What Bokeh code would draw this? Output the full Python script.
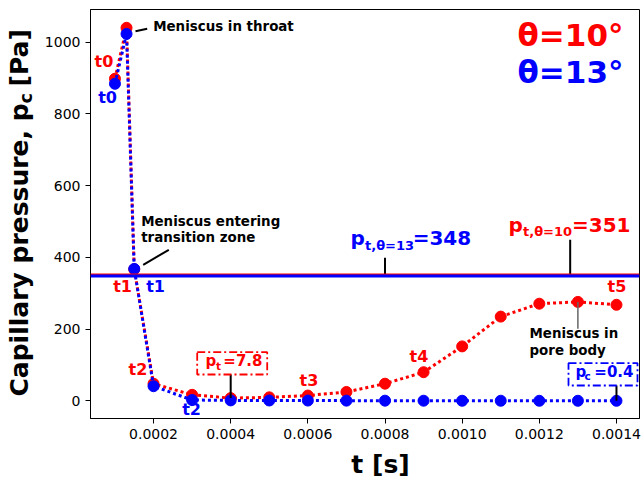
from bokeh.plotting import figure
from bokeh.models import Label, Span, Range1d, FixedTicker, PrintfTickFormatter
from bokeh.layouts import row
from bokeh.embed import file_html
from bokeh.resources import INLINE
import math

# ---------------- data ----------------
t = [0.0001, 0.00013, 0.00015, 0.0002, 0.0003, 0.0004, 0.0005, 0.0006,
     0.0007, 0.0008, 0.0009, 0.0010, 0.0011, 0.0012, 0.0013, 0.0014]
pc_10 = [898, 1040, 367, 48, 17, 7.8, 10, 15, 25, 48, 80, 152, 235, 271, 276, 268]
pc_13 = [884, 1023, 368, 41, 2.5, 1.5, 1.2, 1.0, 0.8, 0.7, 0.6, 0.5, 0.5, 0.4, 0.4, 0.4]
pt_10 = 351
pt_13 = 348
x_ticks = [0.0002, 0.0004, 0.0006, 0.0008, 0.0010, 0.0012, 0.0014]
y_ticks = [0, 200, 400, 600, 800, 1000]

FONT = "DejaVu Sans"
RED = "#ff0000"
BLUE = "#0000ff"

# ---------------- geometry ----------------
X0, X1 = 0.0000366, 0.0014597
Y0, Y1 = -49.0, 1091.0
W, H = 641, 483
LW = 40                      # width of the strip holding the y-axis title
FL, FR, FT, FB = 90, 639, 9, 418   # frame edges in page pixels


def X(px):
    return X0 + (px - FL) * (X1 - X0) / (FR - FL)


def Y(py):
    return Y1 - (py - FT) * (Y1 - Y0) / (FB - FT)


p = figure(width=W - LW, height=H, x_range=Range1d(X0, X1), y_range=Range1d(Y0, Y1),
           output_backend="svg", toolbar_location=None,
           min_border_left=FL - LW, min_border_right=W - FR,
           min_border_top=FT, min_border_bottom=H - FB)
p.grid.visible = False
p.background_fill_color = "white"
p.border_fill_color = "white"
p.outline_line_color = "black"
p.outline_line_width = 1

for ax in (p.xaxis, p.yaxis):
    ax.axis_line_color = "black"
    ax.major_tick_line_color = "black"
    ax.major_tick_out = 5
    ax.major_tick_in = 0
    ax.minor_tick_line_color = None
    ax.major_label_standoff = 5
    ax.major_label_text_font = FONT
    ax.major_label_text_font_size = "14px"
    ax.major_label_text_color = "black"
    ax.axis_label = None

p.xaxis.ticker = FixedTicker(ticks=x_ticks)
p.xaxis.formatter = PrintfTickFormatter(format="%.4f")
p.yaxis.ticker = FixedTicker(ticks=y_ticks)

# ---------------- series ----------------
p.line(t, pc_10, line_color=RED, line_width=3, line_dash="3 3")
p.scatter(t, pc_10, size=11, fill_color=RED, line_color=RED)
p.line(t, pc_13, line_color=BLUE, line_width=3, line_dash="3 3")
p.scatter(t, pc_13, size=11, fill_color=BLUE, line_color=BLUE)

p.add_layout(Span(location=pt_10, dimension="width", line_color=RED, line_width=3))
p.add_layout(Span(location=pt_13, dimension="width", line_color=BLUE, line_width=3))

# ---------------- leader lines ----------------
p.segment(x0=[X(135), X(142.7), 0.0008, 0.00128, 0.0004, 0.0014],
          y0=[Y(30.7), Y(264.3), pt_13, pt_10, pc_10[5], pc_13[-1]],
          x1=[X(146.7), X(168.3), 0.0008, 0.00128, 0.0004, 0.0014],
          y1=[Y(28.3), Y(249.3), Y(257.3), Y(239.3), Y(373.3), Y(382.7)],
          line_color="black", line_width=2)
p.segment(x0=[0.0013], y0=[pc_10[14]], x1=[0.0013], y1=[Y(328.3)],
          line_color="#666666", line_width=1.5)

# dash-dot boxes
p.quad(left=[X(196.7)], right=[X(266.7)], top=[Y(351.7)], bottom=[Y(374)],
       fill_color="white", line_color=RED, line_width=1.8, line_dash="8 3 2 3")
p.quad(left=[X(568)], right=[X(637)], top=[Y(362.7)], bottom=[Y(385)],
       fill_color="white", line_color=BLUE, line_width=1.8, line_dash="8 3 2 3")

SHIFT = 0.39


def make_label(fx, fy, px, py, text, size, color, align, angle, bold=True):
    px2 = px - SHIFT * size * math.sin(angle)
    py2 = py - SHIFT * size * math.cos(angle)
    return Label(x=fx(px2), y=fy(py2), text=text, text_font=FONT,
                 text_font_size=f"{size}px",
                 text_font_style="bold" if bold else "normal",
                 text_color=color, text_align=align,
                 text_baseline="alphabetic", angle=angle)


def lab(px, py, text, size, color="black", align="left", place=None):
    lbl = make_label(X, Y, px, py, text, size, color, align, 0.0)
    if place is None:
        p.add_layout(lbl)
    else:
        p.add_layout(lbl, place)


# t-labels
lab(94, 67, "t0", 16, RED)
lab(97.7, 103, "t0", 16, BLUE)
lab(112.7, 292, "t1", 16, RED)
lab(145.7, 292, "t1", 16, BLUE)
lab(128, 375, "t2", 16, RED)
lab(181.7, 415, "t2", 16, BLUE)
lab(299, 386, "t3", 16, RED)
lab(409, 362, "t4", 16, RED)
lab(607, 292, "t5", 16, RED)

# descriptive notes
lab(152.7, 31.7, "Meniscus in throat", 13.4)
lab(140.7, 226, "Meniscus entering", 13.4)
lab(140.7, 242.7, "transition zone", 13.4)
lab(529, 338.3, "Meniscus in", 13.4)
lab(529, 355, "pore body", 13.4)

# threshold pressure labels
lab(350, 245.7, "p", 20, BLUE)
lab(364.5, 250, "t,θ=13", 13, BLUE)
lab(470.7, 245.7, f"={pt_13}", 20, BLUE, align="right")
lab(508, 232.3, "p", 20, RED)
lab(522.5, 236.5, "t,θ=10", 13, RED)
lab(630, 232.3, f"={pt_10}", 20, RED, align="right")

# boxed values
lab(205, 366.7, "p", 15, RED)
lab(215.5, 369.7, "t", 10.5, RED)
lab(262, 366.7, "=7.8", 15, RED, align="right")
lab(575, 377, "p", 15, BLUE)
lab(584, 380, "c", 10.5, BLUE)
lab(633, 377, "=0.4", 15, BLUE, align="right")

# contact angle legend
lab(570, 46.7, "θ=10°", 31, RED, align="center")
lab(570, 83.3, "θ=13°", 31, BLUE, align="center")

# x-axis title in the bottom panel
lab(380, 474, "t [s]", 25, "black", align="center", place="below")

# ---------------- y-axis title strip ----------------
# (the row aligns this strip's frame with the main frame: rows FT..FB)
yl = figure(width=LW, height=H, x_range=Range1d(0, LW), y_range=Range1d(FB, FT),
            output_backend="svg", toolbar_location=None,
            min_border_left=0, min_border_right=0, min_border_top=0, min_border_bottom=0,
            x_axis_location=None, y_axis_location=None)
yl.grid.visible = False
yl.outline_line_color = None
yl.background_fill_color = "white"
yl.border_fill_color = "white"


def ident(v):
    return v


ROT = math.pi / 2
yl.add_layout(make_label(ident, ident, 28.5, 396, "Capillary pressure, p", 25, "black", "left", ROT))
yl.add_layout(make_label(ident, ident, 32.5, 103, "c", 17.5, "black", "left", ROT))
yl.add_layout(make_label(ident, ident, 28.5, 86, "[Pa]", 25, "black", "left", ROT))

layout = row(yl, p)
open("out.html", "w").write(file_html(layout, INLINE))
